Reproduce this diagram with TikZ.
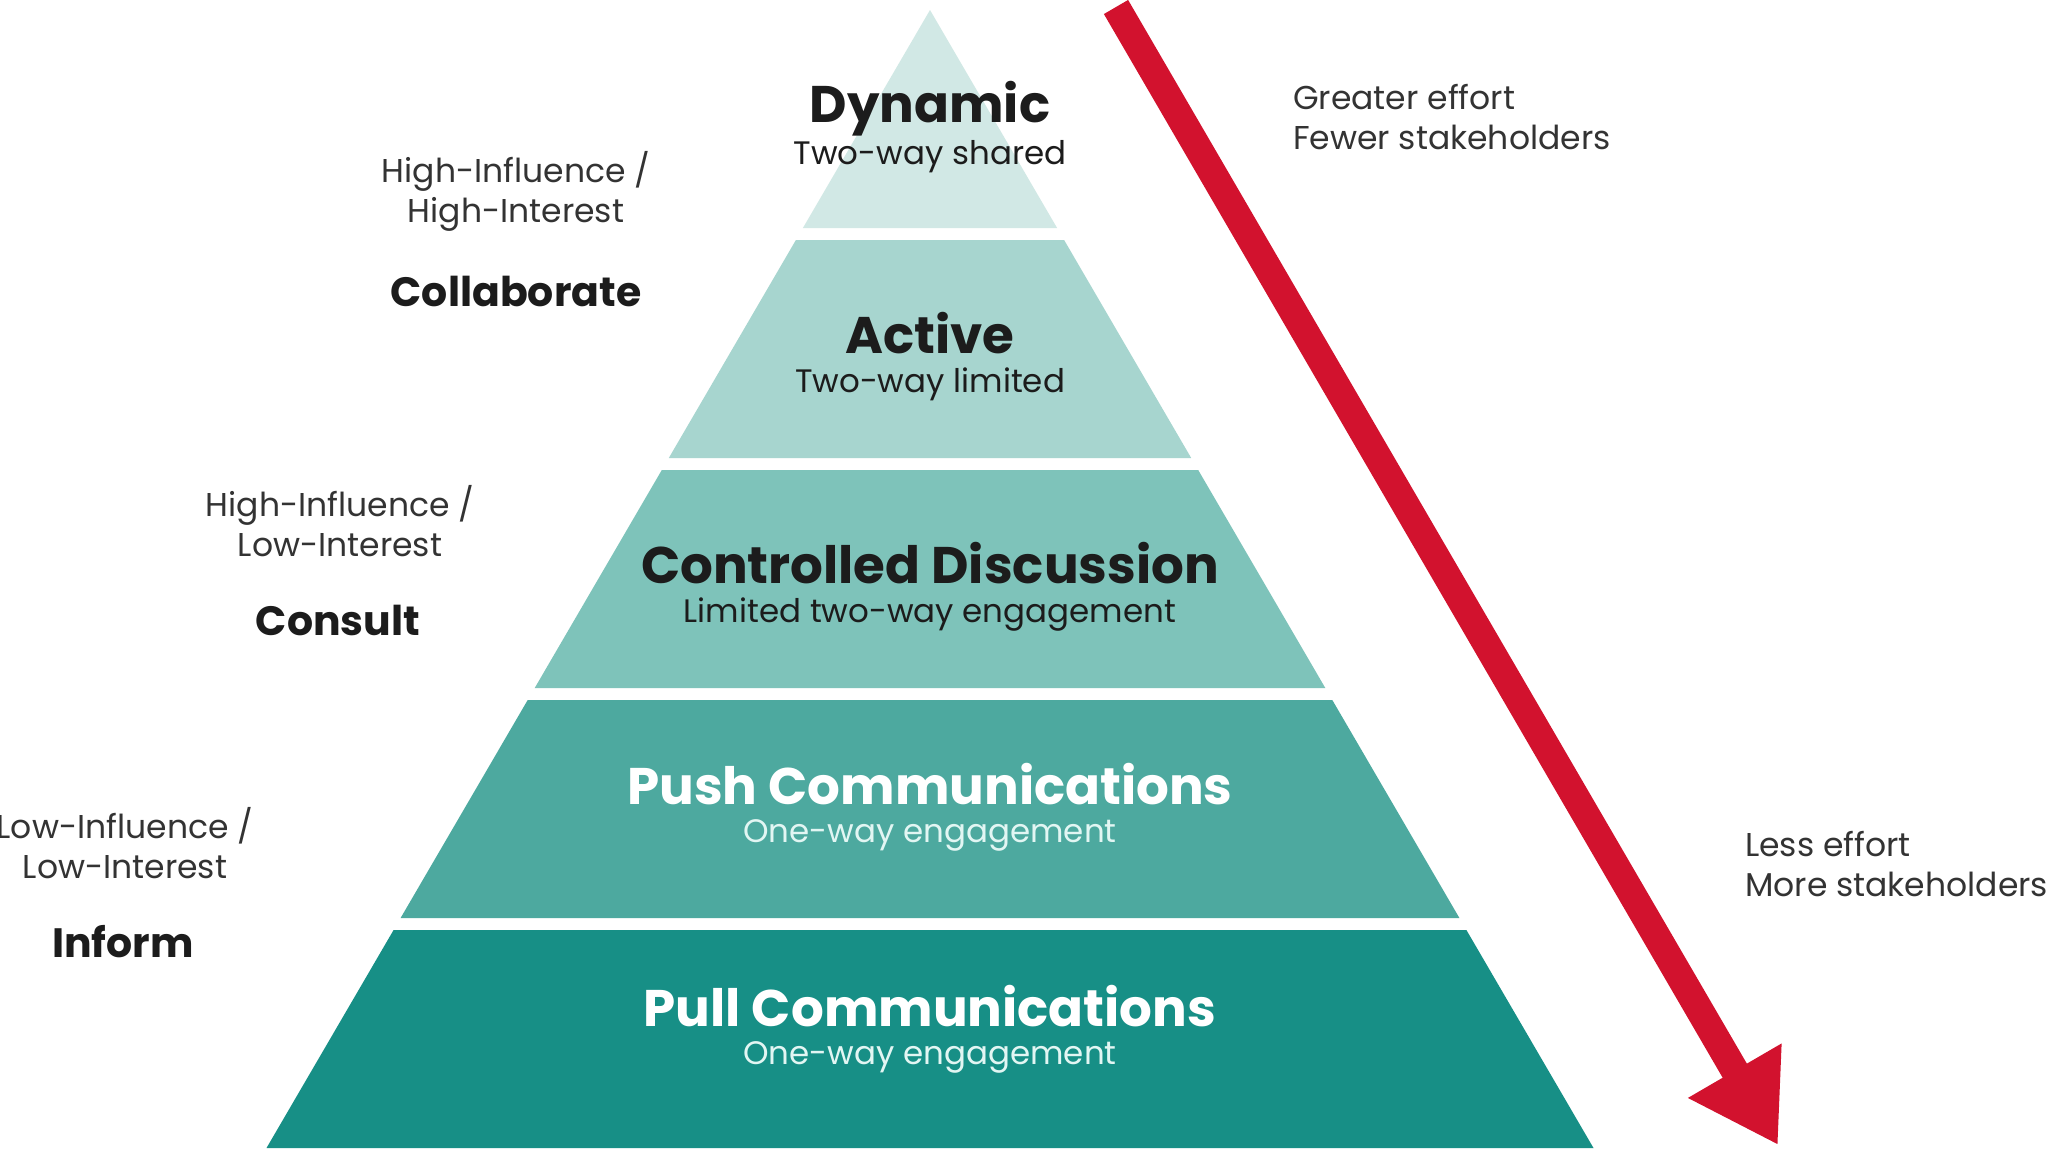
\documentclass[tikz,border=0pt]{standalone}
\usepackage{fontspec}
\setmainfont{Poppins}
\usetikzlibrary{arrows.meta}
\definecolor{bandA}{HTML}{D1E8E5}
\definecolor{bandB}{HTML}{A7D5CF}
\definecolor{bandC}{HTML}{7EC3BA}
\definecolor{bandD}{HTML}{4DA99F}
\definecolor{bandE}{HTML}{178F86}
\definecolor{arrowred}{HTML}{D2122E}
\definecolor{darktxt}{HTML}{1C1C1C}
\definecolor{greytxt}{HTML}{333333}
\definecolor{lighttxt}{HTML}{E2F6F3}
\tikzset{
  title/.style={font=\fontsize{51.5}{55}\selectfont\bfseries, inner sep=0pt, anchor=center},
  subtitle/.style={font=\fontsize{32.5}{36}\selectfont, inner sep=0pt, anchor=center},
  sidelabel/.style={font=\fontsize{33}{40}\selectfont, align=center, inner sep=0pt, text=greytxt},
  sidebold/.style={font=\fontsize{41}{44}\selectfont\bfseries, inner sep=0pt, text=darktxt},
  effort/.style={font=\fontsize{33}{40}\selectfont, align=left, inner sep=0pt, text=greytxt, anchor=west}
}
\begin{document}
\begin{tikzpicture}[x=1pt,y=-1pt]
\useasboundingbox (0,0) rectangle (2048,1152);
\fill[white] (0,0) rectangle (2048,1152);
% pyramid bands
\fill[bandA] (930,10) -- (1057.1,228) -- (802.9,228) -- cycle;
\fill[bandB] (795.9,240) -- (1064.1,240) -- (1191.2,458) -- (668.8,458) -- cycle;
\fill[bandC] (661.8,470) -- (1198.2,470) -- (1325.3,688) -- (534.7,688) -- cycle;
\fill[bandD] (527.7,700) -- (1332.3,700) -- (1459.4,918) -- (400.6,918) -- cycle;
\fill[bandE] (393.6,930) -- (1466.4,930) -- (1593.5,1148) -- (266.5,1148) -- cycle;
% band texts
\node[title, text=darktxt] (t1) at (930,109) {Dynamic};
\node[subtitle, text=darktxt] (s1) at (930,157) {Two-way shared};
\node[title, text=darktxt] (t2) at (930,333) {Active};
\node[subtitle, text=darktxt] (s2) at (930,384) {Two-way limited};
\node[title, text=darktxt] (t3) at (930,563) {Controlled Discussion};
\node[subtitle, text=darktxt] (s3) at (930,615) {Limited two-way engagement};
\node[title, text=white] (t4) at (930,784) {Push Communications};
\node[subtitle, text=lighttxt] (s4) at (930,835) {One-way engagement};
\node[title, text=white] (t5) at (930,1006) {Pull Communications};
\node[subtitle, text=lighttxt] (s5) at (930,1057) {One-way engagement};
% left labels
\node[sidelabel] (l1) at (516,191) {High-Influence /\\High-Interest};
\node[sidebold] (b1) at (516,291) {Collaborate};
\node[sidelabel] (l2) at (340,521) {High-Influence /\\Low-Interest};
\node[sidebold] (b2) at (338,620) {Consult};
\node[sidelabel] (l3) at (125,843) {Low-Influence /\\Low-Interest};
\node[sidebold] (b3) at (123,942) {Inform};
% right labels
\node[effort] (r1) at (1293,117) {Greater effort\\Fewer stakeholders};
\node[effort] (r2) at (1745,864) {Less effort\\More stakeholders};
% arrow
\coordinate (arrS) at (1116,7);
\coordinate (arrE) at (1778,1145);
\draw[arrowred, line width=28pt, -{Triangle[width=102pt,length=86pt]}] (arrS) -- (arrE);
\end{tikzpicture}
\end{document}
